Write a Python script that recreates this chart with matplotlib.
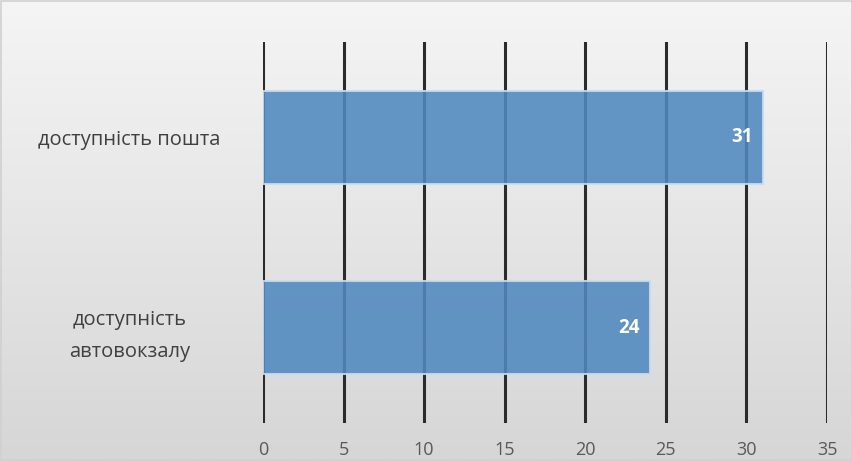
import matplotlib.pyplot as plt
import numpy as np

categories = ['доступність\nавтовокзалу', 'доступність пошта']
values = [24, 31]
xticks = [0, 5, 10, 15, 20, 25, 30, 35]

plt.rcParams['font.family'] = ['Open Sans', 'DejaVu Sans']

fig = plt.figure(figsize=(8.53, 4.61), dpi=100)

# background gradient (light at top, darker at bottom)
bg = fig.add_axes([0, 0, 1, 1], zorder=-10)
grad = np.linspace(0, 1, 256).reshape(-1, 1)
bg.imshow(grad, aspect='auto', cmap=plt.matplotlib.colors.LinearSegmentedColormap.from_list(
    'bg', ['#f5f5f5', '#d6d6d6']), extent=[0, 1, 0, 1], origin='upper')
bg.set_xlim(0, 1)
bg.set_ylim(0, 1)
bg.axis('off')
bg.add_patch(plt.Rectangle((0.001, 0.002), 0.998, 0.996, fill=False,
                           edgecolor='#d0d0d0', lw=1.2, transform=bg.transAxes))

ax = fig.add_axes([263 / 853, 1 - 423 / 461, (827 - 263) / 853, (423 - 42) / 461])
ax.patch.set_alpha(0)

y = np.arange(len(categories))
bars = ax.barh(y, values, height=0.49, color='#4f88bf', alpha=0.88,
               edgecolor='#c8dcef', linewidth=1.5, zorder=3)

for yi, v in zip(y, values):
    ax.annotate(str(v), (v, yi), xytext=(-7, 0), textcoords='offset points',
                ha='right', va='center', color='white', fontsize=13.5,
                fontweight='bold', zorder=5)

ax.set_xlim(0, 35)
ax.set_ylim(-0.5, 1.5)
ax.set_xticks(xticks)
ax.set_xticklabels([str(t) for t in xticks])
ax.set_yticks(y)
ax.set_yticklabels(categories, ha='center', multialignment='center', linespacing=1.75)
ax.xaxis.grid(True, color='#2b2b2b', linewidth=2.2, zorder=1)
ax.set_axisbelow(True)
ax.tick_params(axis='x', length=0, pad=13, labelsize=13, labelcolor='#595959')
ax.tick_params(axis='y', length=0, pad=96, labelsize=14.5, labelcolor='#404040')
for s in ax.spines.values():
    s.set_visible(False)

fig.savefig('out.png', dpi=100)
